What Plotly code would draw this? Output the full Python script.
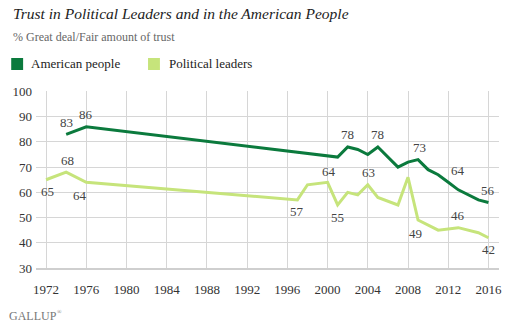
import plotly.graph_objects as go

# Survey years and % with a great deal / fair amount of trust
people_years = [1974, 1976, 2001, 2002, 2003, 2004, 2005, 2007, 2008, 2009, 2010, 2011, 2012, 2013, 2015, 2016]
people_trust = [83, 86, 74, 78, 77, 75, 78, 70, 72, 73, 69, 67, 64, 61, 57, 56]

leaders_years = [1972, 1974, 1976, 1997, 1998, 2000, 2001, 2002, 2003, 2004, 2005, 2007, 2008, 2009, 2011, 2013, 2015, 2016]
leaders_trust = [65, 68, 64, 57, 63, 64, 55, 60, 59, 63, 58, 55, 66, 49, 45, 46, 44, 42]

x_ticks = [1972, 1976, 1980, 1984, 1988, 1992, 1996, 2000, 2004, 2008, 2012, 2016]
y_ticks = [30, 40, 50, 60, 70, 80, 90, 100]

series_names = ["American people", "Political leaders"]

# Which points carry a value label, and where the label sits (dx, dy in px; dy > 0 is up)
people_labels = {1974: (0, 12), 1976: (0, 12), 2002: (0, 12), 2005: (0, 12),
                 2009: (1, 12), 2012: (10, 12), 2016: (0, 12)}
leaders_labels = {1972: (1, -12), 1974: (1, 12), 1976: (-6, -13), 1997: (0, -12),
                  2000: (1, 11), 2001: (0, -13), 2004: (1, 12), 2009: (-3, -13),
                  2013: (0, 12), 2016: (0, -12)}

DARK = "#0b7a3d"
LIGHT = "#c6e47b"
GRID = "#d6d6d6"
FONT = "Liberation Serif, Georgia, serif"

W, H = 514, 329
ML, MR, MT, MB = 35, 12, 91, 61
PW, PH = W - ML - MR, H - MT - MB


def px_x(px):
    return (px - ML) / PW


def px_y(py):
    return (H - MB - py) / PH


fig = go.Figure()
fig.add_trace(go.Scatter(x=people_years, y=people_trust, mode="lines",
                         line=dict(color=DARK, width=3), name=series_names[0],
                         showlegend=False, hoverinfo="x+y"))
fig.add_trace(go.Scatter(x=leaders_years, y=leaders_trust, mode="lines",
                         line=dict(color=LIGHT, width=3), name=series_names[1],
                         showlegend=False, hoverinfo="x+y"))

annotations = []
for years, vals, labels in ((people_years, people_trust, people_labels),
                            (leaders_years, leaders_trust, leaders_labels)):
    for yr, v in zip(years, vals):
        if yr in labels:
            dx, dy = labels[yr]
            annotations.append(dict(x=yr, y=v, xref="x", yref="y", text=str(v),
                                    showarrow=False, xshift=dx, yshift=dy,
                                    font=dict(family=FONT, size=13, color="#444")))

# Title, subtitle
annotations.append(dict(x=px_x(10), y=px_y(13), xref="paper", yref="paper",
                        xanchor="left", yanchor="middle", showarrow=False,
                        text="<i>Trust in Political Leaders and in the American People</i>",
                        font=dict(family=FONT, size=15.5, color="#222")))
annotations.append(dict(x=px_x(10), y=px_y(37), xref="paper", yref="paper",
                        xanchor="left", yanchor="middle", showarrow=False,
                        text="% Great deal/Fair amount of trust",
                        font=dict(family=FONT, size=12, color="#666")))

# Legend
shapes = []
for (x0, tx), col, name in zip(((10, 28), (148, 167)), (DARK, LIGHT), series_names):
    shapes.append(dict(type="rect", xref="paper", yref="paper",
                       x0=px_x(x0), x1=px_x(x0 + 12), y0=px_y(70), y1=px_y(58),
                       fillcolor=col, line=dict(width=0)))
    annotations.append(dict(x=px_x(tx), y=px_y(64), xref="paper", yref="paper",
                            xanchor="left", yanchor="middle", showarrow=False,
                            text=name, font=dict(family=FONT, size=13, color="#222")))

# Footer mark
annotations.append(dict(x=px_x(6), y=px_y(316), xref="paper", yref="paper",
                        xanchor="left", yanchor="middle", showarrow=False,
                        text="GALLUP",
                        font=dict(family=FONT, size=12, color="#777")))
annotations.append(dict(x=px_x(54), y=px_y(312), xref="paper", yref="paper",
                        xanchor="left", yanchor="middle", showarrow=False,
                        text="®",
                        font=dict(family=FONT, size=6, color="#777")))

fig.update_layout(
    width=W, height=H,
    margin=dict(l=ML, r=MR, t=MT, b=MB, pad=0),
    paper_bgcolor="white", plot_bgcolor="white",
    showlegend=False,
    font=dict(family=FONT, size=13, color="#333"),
    annotations=annotations,
    shapes=shapes,
    xaxis=dict(range=[1971.0, 2017.05], tickmode="array", tickvals=x_ticks,
               showgrid=True, gridcolor=GRID, gridwidth=1,
               showline=True, linecolor="#cfcfcf", linewidth=2,
               zeroline=False, ticks="", ticklabelstandoff=8,
               tickfont=dict(family=FONT, size=13, color="#333")),
    yaxis=dict(range=[30, 100.2], tickmode="array", tickvals=y_ticks,
               showgrid=True, gridcolor=GRID, gridwidth=1,
               showline=False, zeroline=False, ticks="", ticklabelstandoff=3,
               tickfont=dict(family=FONT, size=13, color="#333")),
)

fig.write_html("out.html")
